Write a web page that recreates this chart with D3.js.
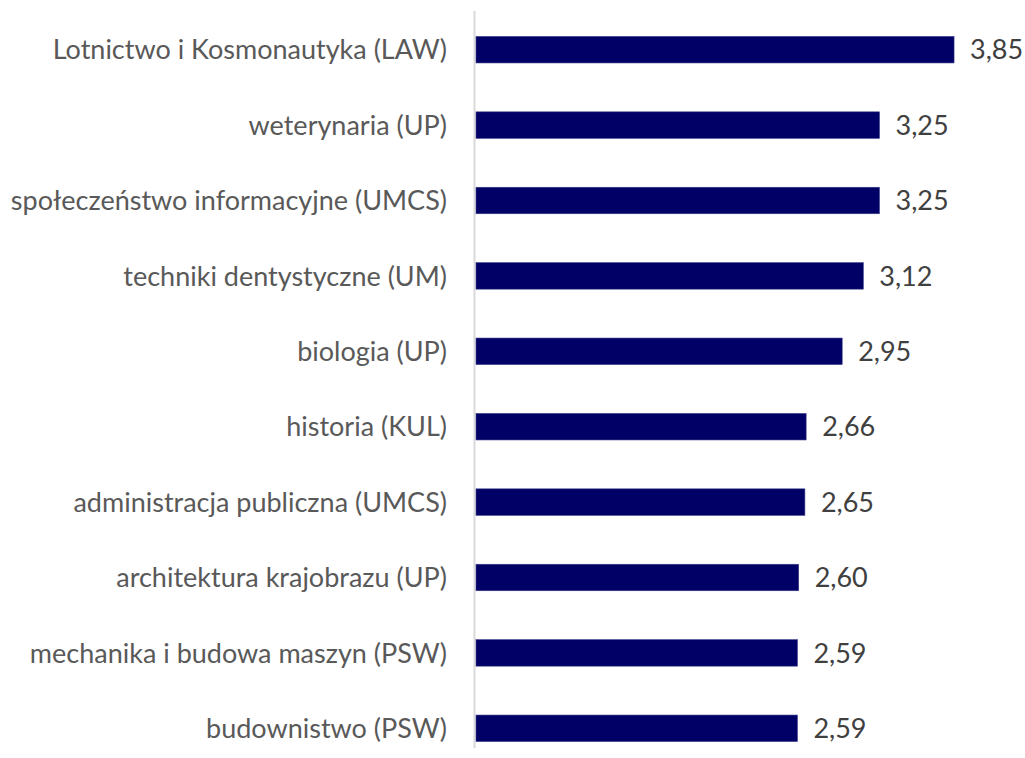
<!DOCTYPE html>
<html><head><meta charset="utf-8">
<script src="https://cdn.jsdelivr.net/npm/d3@7"></script>
<style>body{margin:0;background:#fff}svg{display:block}</style>
</head><body><svg id="c" width="1025" height="758"></svg>
<script>
const categories = ["Lotnictwo i Kosmonautyka (LAW)","weterynaria (UP)","społeczeństwo informacyjne (UMCS)","techniki dentystyczne (UM)","biologia (UP)","historia (KUL)","administracja publiczna (UMCS)","architektura krajobrazu (UP)","mechanika i budowa maszyn (PSW)","budownistwo (PSW)"];
const values = [3.85,3.25,3.25,3.12,2.95,2.66,2.65,2.60,2.59,2.59];
const valueLabels = ["3,85","3,25","3,25","3,12","2,95","2,66","2,65","2,60","2,59","2,59"];

const svg = d3.select("#c");
const x0 = 475.5;
const x = d3.scaleLinear().domain([0, 1]).range([x0, x0 + 124.3]);
const step = 75.4, bh = 26.5, c0 = 49.7;
const y = d3.scaleLinear().domain([0, 1]).range([c0, c0 + step]);
const font = "Lato, 'Open Sans', sans-serif";

svg.append("line").attr("x1", 474.5).attr("x2", 474.5).attr("y1", 11).attr("y2", 748)
  .attr("stroke", "#d9d9d9").attr("stroke-width", 2);

svg.selectAll("rect.bar").data(values).join("rect")
  .attr("class", "bar")
  .attr("x", x(0) + 0.5)
  .attr("y", (d, i) => y(i) - bh / 2)
  .attr("width", d => x(d) - x(0) - 0.5)
  .attr("height", bh)
  .attr("fill", "#000066")
  .attr("stroke", "#3a3a8a").attr("stroke-width", 0.6);

svg.selectAll("text.val").data(values).join("text")
  .attr("class", "val")
  .attr("x", d => x(d) + 16)
  .attr("y", (d, i) => y(i))
  .attr("dy", "0.36em")
  .attr("font-family", font).attr("font-size", 27).attr("fill", "#404040")
  .text((d, i) => valueLabels[i]);

svg.selectAll("text.cat").data(categories).join("text")
  .attr("class", "cat")
  .attr("x", 447)
  .attr("y", (d, i) => y(i))
  .attr("dy", "0.36em")
  .attr("text-anchor", "end")
  .attr("font-family", font).attr("font-size", 27).attr("fill", "#595959")
  .text(d => d);
</script></body></html>
